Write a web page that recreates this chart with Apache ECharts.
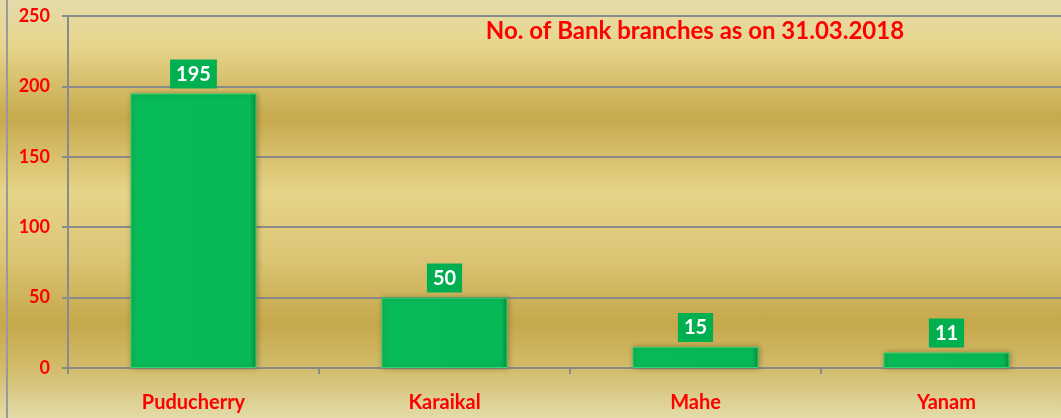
<!DOCTYPE html>
<html>
<head>
<meta charset="utf-8">
<script src="https://cdn.jsdelivr.net/npm/echarts@6/dist/echarts.min.js"></script>
<style>
  html, body { margin: 0; padding: 0; background: #fff; }
  #chart {
    width: 1061px;
    height: 418px;
    background: linear-gradient(to bottom,
      #e4dbaa 0px, #e7d68c 45px, #c7a94e 118px, #e6d488 192px,
      #dcc676 255px, #c6a84c 322px, #d2bb6a 368px, #e3dba8 418px);
  }
</style>
</head>
<body>
<div id="chart"></div>
<script>
// data
const districts = ['Puducherry', 'Karaikal', 'Mahe', 'Yanam']
const branches = [195, 50, 15, 11]
const titleText = 'No. of Bank branches as on 31.03.2018'

const chart = echarts.init(document.getElementById('chart'), null, { renderer: 'canvas' })
const font = 'Lato, "Open Sans", sans-serif'

chart.setOption({
  backgroundColor: 'transparent',
  animation: false,
  title: {
    text: titleText,
    left: 690,
    textAlign: 'center',
    top: 14,
    textStyle: { color: '#ff0000', fontSize: 24, fontWeight: 'bold', fontFamily: font }
  },
  graphic: [{
    type: 'rect',
    shape: { x: 6, y: 0, width: 2, height: 418 },
    style: { fill: '#9a9a9a' }
  }],
  grid: { left: 68, width: 1004, top: 16, height: 352, outerBoundsMode: 'none', containLabel: false },
  xAxis: {
    type: 'category',
    data: districts,
    axisLine: { lineStyle: { color: '#8a8a8a', width: 2 } },
    axisTick: { show: true, length: 6, lineStyle: { color: '#8a8a8a', width: 2 } },
    axisLabel: { color: '#ff0000', fontSize: 20, fontWeight: 'bold', fontFamily: font, margin: 25 }
  },
  yAxis: {
    type: 'value',
    min: 0,
    max: 250,
    interval: 50,
    axisLine: { show: true, lineStyle: { color: '#8a8a8a', width: 2 } },
    axisTick: { show: true, length: 6, lineStyle: { color: '#8a8a8a', width: 2 } },
    splitLine: { lineStyle: { color: '#8a8a8a', width: 2 } },
    axisLabel: { color: '#ff0000', fontSize: 18, fontWeight: 'bold', fontFamily: font, margin: 18 }
  },
  series: [{
    type: 'bar',
    data: branches,
    barWidth: 126,
    itemStyle: {
      color: new echarts.graphic.LinearGradient(0, 0, 1, 0, [
        { offset: 0, color: '#0aa94f' },
        { offset: 0.03, color: '#07bb58' },
        { offset: 0.95, color: '#06b956' },
        { offset: 1, color: '#0a8a42' }
      ]),
      borderColor: '#2ed673',
      borderWidth: 1,
      shadowColor: 'rgba(90,70,20,0.45)',
      shadowBlur: 5,
      shadowOffsetX: 1
    },
    label: {
      show: true,
      position: 'top',
      distance: 5,
      backgroundColor: '#00b050',
      color: '#ffffff',
      fontSize: 20,
      fontWeight: 'bold',
      fontFamily: font,
      padding: [5, 6, 4, 6]
    }
  }]
})
</script>
</body>
</html>
